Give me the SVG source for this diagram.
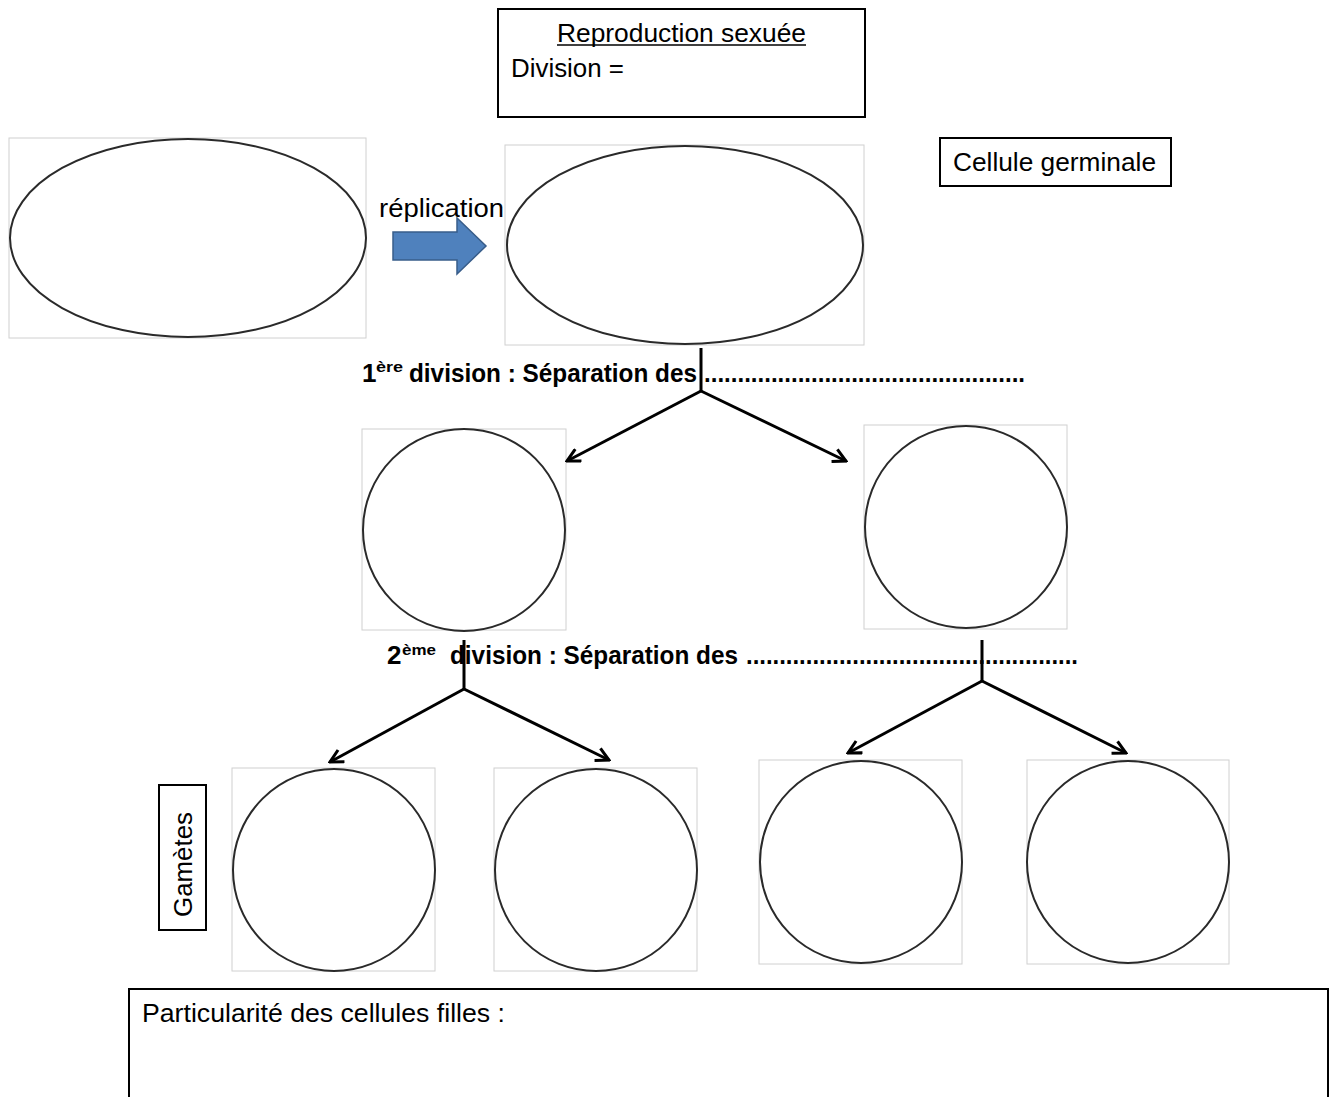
<svg xmlns="http://www.w3.org/2000/svg" width="1335" height="1097" viewBox="0 0 1335 1097">
<style>
.box{fill:#fff;stroke:#000;stroke-width:2}
.frame{fill:#fff;stroke:#d0d0d0;stroke-width:1}
.cell{fill:none;stroke:#2a2a2a;stroke-width:2}
.t{font-family:"Liberation Sans","Open Sans",sans-serif;font-size:26px;fill:#000}
.b{font-family:"Liberation Sans","Open Sans",sans-serif;font-size:26px;font-weight:bold;fill:#000}
.sup{font-family:"Liberation Sans","Open Sans",sans-serif;font-size:15px;font-weight:bold;fill:#000}
.con{fill:none;stroke:#000;stroke-width:3}
</style>
<defs>
<marker id="ah" markerWidth="16" markerHeight="16" refX="9" refY="5" orient="auto" markerUnits="userSpaceOnUse" viewBox="0 0 10 10">
<path d="M1,0.8 L9,5 L1,9.2" fill="none" stroke="#000" stroke-width="1.9"/>
</marker>
</defs>
<rect width="1335" height="1097" fill="#fff"/>

<g id="title">
<rect class="box" x="498" y="9" width="367" height="108"/>
<text class="t" x="557" y="42" textLength="249" lengthAdjust="spacingAndGlyphs">Reproduction sexuée</text>
<line x1="557" y1="45" x2="806" y2="45" stroke="#000" stroke-width="1.5"/>
<text class="t" x="511" y="77" textLength="113" lengthAdjust="spacingAndGlyphs">Division =</text>
</g>

<g id="cell-germinale">
<rect class="frame" x="9" y="138" width="357" height="200"/>
<ellipse class="cell" cx="188" cy="238" rx="178" ry="99"/>
</g>

<g id="replication">
<path d="M393,232 L457,232 L457,218 L486,246 L457,274 L457,260 L393,260 Z" fill="#4f81bd" stroke="#385d8a" stroke-width="1.5"/>
<text class="t" x="379" y="217" textLength="125" lengthAdjust="spacingAndGlyphs">réplication</text>
</g>

<g id="cell-replicated">
<rect class="frame" x="505" y="145" width="359" height="200"/>
<ellipse class="cell" cx="685" cy="245" rx="178" ry="99"/>
</g>

<g id="label-germinale">
<rect class="box" x="940" y="138" width="231" height="48"/>
<text class="t" x="953" y="171" textLength="203" lengthAdjust="spacingAndGlyphs">Cellule germinale</text>
</g>

<g id="division1-label">
<text class="b" x="362" y="382">1</text>
<text class="sup" x="376" y="372" textLength="27" lengthAdjust="spacingAndGlyphs">ère</text>
<text class="b" x="409" y="382" textLength="288" lengthAdjust="spacingAndGlyphs">division : Séparation des</text>
<text class="b" x="704" y="382" textLength="321" lengthAdjust="spacingAndGlyphs">................................................</text>
</g>

<g id="cell-d1-left">
<rect class="frame" x="362" y="429" width="204" height="201"/>
<circle class="cell" cx="464" cy="530" r="101"/>
</g>
<g id="cell-d1-right">
<rect class="frame" x="864" y="425" width="203" height="204"/>
<circle class="cell" cx="966" cy="527" r="101"/>
</g>

<g id="division2-label">
<text class="b" x="387" y="664">2</text>
<text class="sup" x="402" y="655" textLength="34" lengthAdjust="spacingAndGlyphs">ème</text>
<text class="b" x="450" y="664" textLength="288" lengthAdjust="spacingAndGlyphs">division : Séparation des</text>
<text class="b" x="746" y="664" textLength="332" lengthAdjust="spacingAndGlyphs">..................................................</text>
</g>

<g id="gametes-label">
<rect class="box" x="159" y="785" width="47" height="145"/>
<text class="t" x="0" y="0" transform="translate(192,917) rotate(-90)" textLength="105" lengthAdjust="spacingAndGlyphs">Gamètes</text>
</g>

<g id="gamete-1">
<rect class="frame" x="232" y="768" width="203" height="203"/>
<circle class="cell" cx="334" cy="870" r="101"/>
</g>
<g id="gamete-2">
<rect class="frame" x="494" y="768" width="203" height="203"/>
<circle class="cell" cx="596" cy="870" r="101"/>
</g>
<g id="gamete-3">
<rect class="frame" x="759" y="760" width="203" height="204"/>
<circle class="cell" cx="861" cy="862" r="101"/>
</g>
<g id="gamete-4">
<rect class="frame" x="1027" y="760" width="202" height="204"/>
<circle class="cell" cx="1128" cy="862" r="101"/>
</g>

<g id="connectors">
<line class="con" x1="701" y1="348" x2="701" y2="392"/>
<line class="con" x1="701" y1="391" x2="567" y2="461" marker-end="url(#ah)"/>
<line class="con" x1="701" y1="391" x2="846" y2="461" marker-end="url(#ah)"/>
<line class="con" x1="464" y1="640" x2="464" y2="690"/>
<line class="con" x1="464" y1="689" x2="330" y2="762" marker-end="url(#ah)"/>
<line class="con" x1="464" y1="689" x2="609" y2="760" marker-end="url(#ah)"/>
<line class="con" x1="982" y1="640" x2="982" y2="682"/>
<line class="con" x1="982" y1="681" x2="848" y2="753" marker-end="url(#ah)"/>
<line class="con" x1="982" y1="681" x2="1126" y2="753" marker-end="url(#ah)"/>
</g>

<g id="particularite">
<rect class="box" x="129" y="989" width="1199" height="120"/>
<text class="t" x="142" y="1022" textLength="363" lengthAdjust="spacingAndGlyphs">Particularité des cellules filles :</text>
</g>
</svg>
